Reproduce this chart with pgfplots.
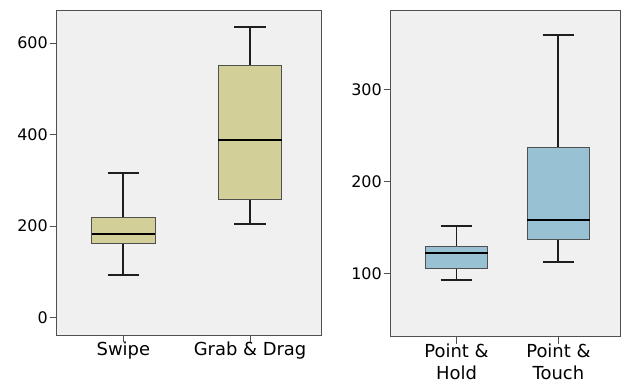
\documentclass[border=0pt]{standalone}
\usepackage{fontspec}
\setmainfont{DejaVu Sans}
\usepackage{pgfplots}
\usepgfplotslibrary{statistics}
\pgfplotsset{compat=1.18}
\definecolor{bgc}{RGB}{240,240,240}
\definecolor{tanbox}{RGB}{211,207,153}
\definecolor{blubox}{RGB}{152,194,212}
\definecolor{framec}{RGB}{80,80,80}
\definecolor{whisk}{RGB}{30,30,30}
\begin{document}
\begin{tikzpicture}
\useasboundingbox (0bp,-383bp) rectangle (621bp,0bp);
\pgfplotsset{
 myax/.style={
  scale only axis,
  anchor=south west,
  boxplot/draw direction=y,
  axis background/.style={fill=bgc},
  axis line style={framec, line width=0.9bp},
  tick style={framec, line width=0.9bp},
  tick align=outside,
  major tick length=7bp,
  xtick pos=bottom, ytick pos=left,
  /pgf/number format/assume math mode=true,
  xtick={1,2},
  yticklabel style={font=\fontsize{16}{19}\selectfont, xshift=1.5bp},
  xticklabel style={font=\fontsize{18}{22}\selectfont, align=center, inner sep=0pt, yshift=0bp},
  boxplot/every median/.style={black, line width=2bp},
  boxplot/every whisker/.style={whisk, line width=1.9bp},
 },
}
% Left panel
\begin{axis}[myax,
  at={(56.7bp,-335bp)},
  width=264.3bp, height=325bp,
  xmin=0.474, xmax=2.56, ymin=-38, ymax=672,
  ytick={0,200,400,600},
  xticklabels={Swipe, Grab \& Drag},
  boxplot/box extend=0.5,
  boxplot/whisker extend=0.25,
  boxplot/every box/.style={draw=framec, fill=tanbox, line width=0.9bp},
]
\addplot[boxplot prepared={draw position=1, lower whisker=94, lower quartile=162.6, median=183, upper quartile=218.6, upper whisker=315.6}] coordinates {};
\addplot[boxplot prepared={draw position=2, lower whisker=205, lower quartile=258, median=388, upper quartile=550, upper whisker=634}] coordinates {};
\end{axis}
% Right panel
\begin{axis}[myax,
  at={(390.7bp,-336.7bp)},
  width=229.5bp, height=326.7bp,
  xmin=0.355, xmax=2.606, ymin=30.8, ymax=387.2,
  ytick={100,200,300},
  xticklabels={Point \&\\Hold, Point \&\\Touch},
  boxplot/box extend=0.616,
  boxplot/whisker extend=0.31,
  boxplot/every box/.style={draw=framec, fill=blubox, line width=0.9bp},
]
\addplot[boxplot prepared={draw position=1, lower whisker=92.7, lower quartile=105, median=121.8, upper quartile=129.4, upper whisker=151.6}] coordinates {};
\addplot[boxplot prepared={draw position=2, lower whisker=112.7, lower quartile=137.1, median=157.8, upper quartile=237.8, upper whisker=360.3}] coordinates {};
\end{axis}
\end{tikzpicture}
\end{document}
